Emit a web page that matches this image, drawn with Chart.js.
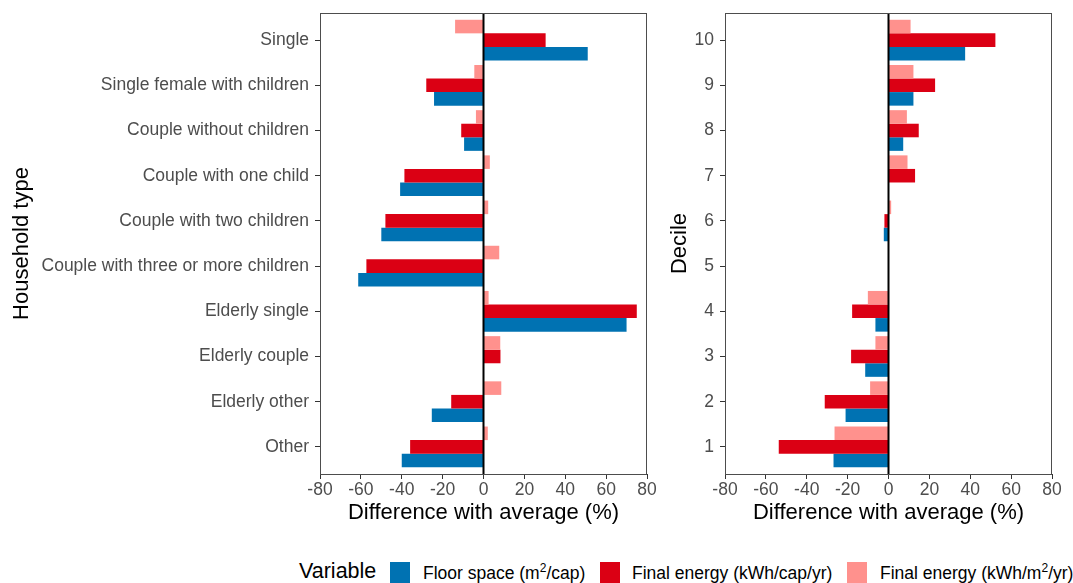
<!DOCTYPE html>
<html>
<head>
<meta charset="utf-8">
<script src="https://cdn.jsdelivr.net/npm/chart.js@4/dist/chart.umd.min.js"></script>
<style>
  body { margin: 0; background: #fff; width: 1073px; height: 583px; overflow: hidden; position: relative; font-family: "Liberation Sans", Arial, sans-serif; }
  #left { position: absolute; left: 0; top: 0; }
  #right { position: absolute; left: 660px; top: 0; }
  .lg { position: absolute; white-space: nowrap; color: #000; line-height: 1; }
  .lt { font-size: 17.5px; top: 564.5px; }
  .sp { position: relative; top: -7px; font-size: 12px; }
  .box { position: absolute; width: 20px; height: 22px; top: 562px; }
</style>
</head>
<body>
<canvas id="left" width="660" height="540"></canvas>
<canvas id="right" width="413" height="540"></canvas>

<div class="lg" style="left:299px; top:561px; font-size:21.5px;">Variable</div>
<div class="box" style="left:390px; background:#0072b2;"></div>
<div class="lg lt" style="left:423px;">Floor space (m<span class="sp">2</span>/cap)</div>
<div class="box" style="left:600px; background:#db0014;"></div>
<div class="lg lt" style="left:632px;">Final energy (kWh/cap/yr)</div>
<div class="box" style="left:847px; background:#ff918d;"></div>
<div class="lg lt" style="left:880px;">Final energy (kWh/m<span class="sp">2</span>/yr)</div>

<script>
// household types, top to bottom
const householdTypes = [
  "Single",
  "Single female with children",
  "Couple without children",
  "Couple with one child",
  "Couple with two children",
  "Couple with three or more children",
  "Elderly single",
  "Elderly couple",
  "Elderly other",
  "Other"
];
const hhFloor = [51, -24.2, -9.5, -40.8, -50, -61.3, 70, 0, -25.3, -40];
const hhEnergyCap = [30.4, -28, -10.9, -38.7, -48, -57.3, 75, 8.3, -15.8, -35.9];
const hhEnergyM2 = [-13.9, -4.5, -3.7, 3.1, 2.3, 7.7, 2.5, 8.2, 8.7, 2.1];

// deciles 1..10
const deciles = [1, 2, 3, 4, 5, 6, 7, 8, 9, 10];
const decFloor = [-26.9, -21, -11.4, -6.4, 0, -2.3, 0, 7.2, 12.2, 37.5];
const decEnergyCap = [-53.7, -31.2, -18.3, -17.8, 0, -2, 13, 14.8, 22.8, 52.3];
const decEnergyM2 = [-26.4, -9, -6.4, -10.1, 0, 1.3, 9.3, 9, 12.2, 10.8];

const xTicks = [-80, -60, -40, -20, 0, 20, 40, 60, 80];

const BLUE = "#0072b2", RED = "#db0014", PINK = "#ff918d";
const FONT = "'Liberation Sans', Arial, sans-serif";

// panel border + zero line
const panelPlugin = {
  id: "panel",
  afterDatasetsDraw(chart) {
    const { ctx, chartArea: a, scales } = chart;
    ctx.save();
    const x0 = scales.x.getPixelForValue(0);
    ctx.strokeStyle = "#000";
    ctx.lineWidth = 2;
    ctx.beginPath();
    ctx.moveTo(x0, a.top);
    ctx.lineTo(x0, a.bottom);
    ctx.stroke();
    ctx.strokeStyle = "#4d4d4d";
    ctx.lineWidth = 1;
    ctx.strokeRect(a.left + 0.5, a.top + 0.5, a.width - 1, a.height);
    ctx.restore();
  }
};

function makePanel(canvasId, labels, series, yTitle, yWidth, padRight, titlePad, toPos) {
  const n = labels.length;
  const ds = series.map(s => ({
    label: s.label,
    data: s.values.map((v, i) => ({ x: v, y: toPos(i) })),
    backgroundColor: s.color,
    borderWidth: 0,
    categoryPercentage: 0.9,
    barPercentage: 1
  }));
  const toIdx = v => {
    for (let i = 0; i < n; i++) if (toPos(i) === v) return i;
    return -1;
  };
  new Chart(document.getElementById(canvasId), {
    type: "bar",
    data: { datasets: ds },
    options: {
      indexAxis: "y",
      responsive: false,
      animation: false,
      layout: { padding: { top: 13, right: padRight, left: 0, bottom: 0 } },
      plugins: { legend: { display: false }, tooltip: { enabled: false } },
      scales: {
        x: {
          type: "linear",
          min: -80, max: 80,
          afterBuildTicks: sc => { sc.ticks = xTicks.map(v => ({ value: v })); },
          afterFit: sc => { sc.height = 66; },
          border: { display: false },
          grid: { drawOnChartArea: false, tickLength: 5, tickColor: "#333", tickWidth: 1 },
          ticks: { color: "#4d4d4d", font: { family: FONT, size: 17.5 }, padding: 1, maxRotation: 0 },
          title: { display: true, text: "Difference with average (%)", color: "#000", font: { family: FONT, size: 22 }, padding: { top: 0, bottom: 14 } }
        },
        y: {
          type: "linear",
          offset: false,
          min: 0.4, max: n + 0.6,
          afterBuildTicks: sc => { sc.ticks = labels.map((l, i) => ({ value: toPos(i) })); },
          afterFit: sc => { sc.width = yWidth; sc.paddingTop = 0; sc.paddingBottom = 0; },
          border: { display: false },
          grid: { offset: false, drawOnChartArea: false, tickLength: 5, tickColor: "#333", tickWidth: 1 },
          ticks: {
            color: "#4d4d4d", font: { family: FONT, size: 17.5 }, padding: 6,
            callback: v => labels[toIdx(v)]
          },
          title: { display: true, text: yTitle, color: "#000", font: { family: FONT, size: 22 }, padding: { top: titlePad, bottom: 0 } }
        }
      }
    },
    plugins: [panelPlugin]
  });
}

makePanel("left", householdTypes, [
  { label: "Final energy (kWh/m²/yr)", values: hhEnergyM2, color: PINK },
  { label: "Final energy (kWh/cap/yr)", values: hhEnergyCap, color: RED },
  { label: "Floor space (m²/cap)", values: hhFloor, color: BLUE }
], "Household type", 320, 13, 9, i => householdTypes.length - i);

makePanel("right", deciles, [
  { label: "Final energy (kWh/m²/yr)", values: decEnergyM2, color: PINK },
  { label: "Final energy (kWh/cap/yr)", values: decEnergyCap, color: RED },
  { label: "Floor space (m²/cap)", values: decFloor, color: BLUE }
], "Decile", 65, 21, 7, i => deciles[i]);
</script>
</body>
</html>
